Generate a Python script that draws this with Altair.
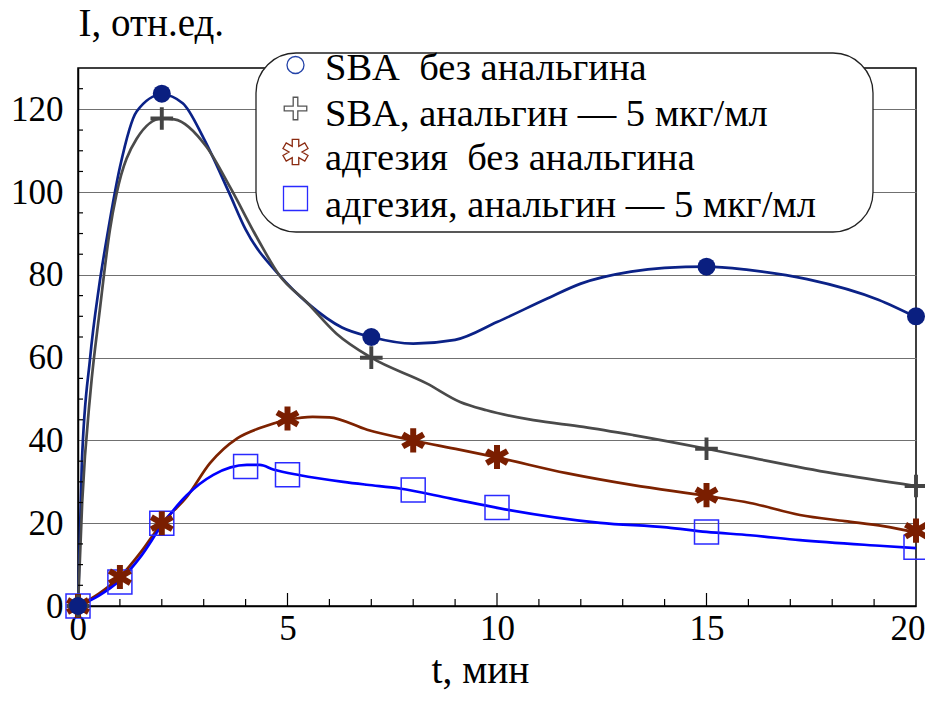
import math
import altair as alt
import pandas as pd

# ---------------- data ----------------
SERIES = ["SBA\u00a0 без анальгина", "SBA, анальгин — 5 мкг/мл",
          "адгезия\u00a0 без анальгина", "адгезия, анальгин — 5 мкг/мл"]

# measured points (markers)
sba_t = [0, 2, 7, 15, 20]
sba_v = [0, 123.8, 65, 82, 70]
sbaA_t = [0, 2, 7, 15, 20]
sbaA_v = [0, 117.8, 60, 38, 29]
adh_t = [0, 1, 2, 5, 8, 10, 15, 20]
adh_v = [0, 7, 20, 45.3, 40, 36, 26.8, 18.2]
adhA_t = [0, 1, 2, 4, 5, 8, 10, 15, 20]
adhA_v = [0, 5.8, 20, 33.7, 31.7, 28, 23.8, 17.9, 14.2]

# smooth curves
sba_ct = [0, 0.09, 0.29, 0.5, 0.72, 1.0, 1.4, 2.0, 2.5, 3.0, 3.6, 4.0, 4.8, 5.5,
          6.3, 7.0, 8.0, 9.0, 10.0, 11.2, 12.0, 13.2, 14.0, 15.0, 16.0, 17.4, 19.1, 20]
sba_cv = [0, 34, 60, 77, 90.8, 106, 119.5, 123.6, 121.5, 113, 100, 91, 80, 73,
          67.3, 65, 63.4, 64.3, 68.6, 74.3, 77.9, 80.8, 81.7, 82, 81.2, 79, 74, 69.8]
sbaA_ct = [0, 0.1, 0.3, 0.52, 0.76, 0.92, 1.4, 2.0, 2.3, 3.07, 3.63, 4.3, 4.8, 5.46,
           6.17, 7.0, 8.32, 9.12, 9.75, 10.87, 12.06, 13.25, 15.0, 16.04, 18.0, 20]
sbaA_cv = [0, 25, 52, 71.5, 90.8, 99.6, 112.9, 117.8, 117.6, 110.9, 101.2, 88.5, 80, 73.4,
           65.8, 60, 53.8, 49.3, 47.3, 44.9, 43.3, 41.3, 38, 35.9, 32.1, 29]
adh_ct = [0, 0.5, 1, 1.5, 2, 2.6, 3.15, 3.8, 4.34, 5.02, 5.6, 6.0, 6.9, 8, 9.1, 10,
          11.66, 13.25, 15, 16.04, 17.23, 18.3, 19.22, 20]
adh_cv = [0, 3, 7, 13, 20, 26.4, 34.5, 40.5, 43, 45, 45.7, 45.6, 42.6, 40, 37.8, 35.9,
          32.1, 29.2, 26.6, 24.9, 22, 20.5, 19.3, 17.8]
adhA_ct = [0, 0.5, 1, 1.5, 2, 2.59, 3.23, 4.03, 4.34, 4.66, 5.3, 6.33, 6.89, 7.68, 8.88,
           10.07, 12.46, 14.05, 15, 16.04, 17.23, 19.22, 20]
adhA_cv = [0, 2.5, 6.2, 12, 19.5, 26.7, 31.7, 34.1, 34.1, 33, 31.6, 30, 29.3, 28.4, 26,
           23.6, 20.1, 19, 17.9, 17.1, 15.9, 14.5, 14]

x_labels = [0, 5, 10, 15, 20]
y_labels = [0, 20, 40, 60, 80, 100, 120]
x_minor = [1, 2, 3, 4, 6, 7, 8, 9, 11, 12, 13, 14, 16, 17, 18, 19]
x_major = [5, 10, 15]
y_minor = [5, 10, 15, 25, 30, 35, 45, 50, 55, 65, 70, 75, 85, 90, 95, 105, 110, 115, 125]

# ---------------- styles ----------------
FONT = "Liberation Serif"
MARK_COLORS = ["#0a1f80", "#444444", "#7a1e00", "#2a2aff"]
LINE_COLORS = ["#0b2287", "#4a4a4a", "#7d2200", "#0000ff"]
LEG_COLORS = ["#2443a8", "#555555", "#8a2a10", "#2a2aff"]


def star(n, w):
    pts = []
    L = math.sqrt(1 - w * w)
    half = math.pi / n
    for k in range(n):
        th = math.pi / 2 + 2 * math.pi * k / n
        d = (math.cos(th), math.sin(th))
        nn = (-math.sin(th), math.cos(th))
        pts.append((L * d[0] - w * nn[0], L * d[1] - w * nn[1]))
        pts.append((L * d[0] + w * nn[0], L * d[1] + w * nn[1]))
        r = w / math.sin(half)
        pts.append((r * math.cos(th + half), r * math.sin(th + half)))
    return "M" + " L".join(f"{x:.3f},{-y:.3f}" for x, y in pts) + " Z"


PLUS = star(4, 0.17)
AST = star(6, 0.24)
LEG_PLUS = star(4, 0.2)
LEG_AST = star(6, 0.25)

W, H = 838, 538

X = alt.X("t:Q", scale=alt.Scale(domain=[0, 20], nice=False, zero=False),
          axis=alt.Axis(values=x_labels, grid=False, ticks=False, tickSize=0,
                        domainColor="black", domainWidth=1.5,
                        labelFont=FONT, labelFontSize=35, labelColor="black",
                        labelPadding=5, labelFlush=True, labelFlushOffset=9,
                        title="t, мин", titleFont=FONT, titleFontSize=39.5,
                        titleFontWeight="normal", titleColor="black",
                        titleX=402, titleY=76, titleBaseline="alphabetic"))
Y = alt.Y("v:Q", scale=alt.Scale(domain=[0, 130], nice=False),
          axis=alt.Axis(values=y_labels, grid=True, gridColor="#707070", gridWidth=1.2,
                        ticks=False, tickSize=0, domainColor="black", domainWidth=1.5,
                        labelFont=FONT, labelFontSize=35, labelColor="black",
                        labelPadding=15, labelBaseline="middle",
                        title="I, отн.ед.", titleFont=FONT, titleFontSize=39,
                        titleFontWeight="normal", titleColor="black",
                        titleAngle=0, titleAlign="left", titleBaseline="alphabetic",
                        titleX=0, titleY=-33))

curves = [(sba_ct, sba_cv), (sbaA_ct, sbaA_cv), (adh_ct, adh_cv), (adhA_ct, adhA_cv)]
layers = []
for i, (ct, cv) in enumerate(curves):
    df = pd.DataFrame({"t": ct, "v": cv})
    layers.append(alt.Chart(df).mark_line(interpolate="monotone", strokeWidth=2.7,
                                          color=LINE_COLORS[i]).encode(x=X, y=Y))

# tick marks (inward)
layers.append(alt.Chart(pd.DataFrame({"t": x_minor})).mark_rule(color="black", strokeWidth=1.2)
              .encode(x=X, y=alt.value(H), y2=alt.value(H - 7)))
layers.append(alt.Chart(pd.DataFrame({"t": x_major})).mark_rule(color="black", strokeWidth=1.2)
              .encode(x=X, y=alt.value(H), y2=alt.value(H - 13)))
layers.append(alt.Chart(pd.DataFrame({"v": y_minor})).mark_rule(color="black", strokeWidth=1.2)
              .encode(y=Y, x=alt.value(0), x2=alt.value(5)))

# visible markers
layers.append(alt.Chart(pd.DataFrame({"t": adhA_t, "v": adhA_v})).mark_point(
    shape="square", filled=False, size=576, strokeWidth=1.5, color=MARK_COLORS[3], opacity=1
).encode(x=X, y=Y))
layers.append(alt.Chart(pd.DataFrame({"t": adh_t, "v": adh_v})).mark_point(
    shape=AST, filled=True, size=620, opacity=1, strokeWidth=0, color=MARK_COLORS[2]).encode(x=X, y=Y))
layers.append(alt.Chart(pd.DataFrame({"t": sbaA_t, "v": sbaA_v})).mark_point(
    shape=PLUS, filled=True, size=529, opacity=1, strokeWidth=0, color=MARK_COLORS[1]).encode(x=X, y=Y))
layers.append(alt.Chart(pd.DataFrame({"t": sba_t, "v": sba_v})).mark_point(
    shape="circle", filled=True, size=324, opacity=1, strokeWidth=0, color=MARK_COLORS[0]).encode(x=X, y=Y))

# ---------------- legend (rounded box) ----------------
layers.append(alt.Chart(pd.DataFrame({"k": [0]})).mark_rect(
    cornerRadius=40, fill="white", stroke="#222222", strokeWidth=1.3
).encode(x=alt.value(178), x2=alt.value(795), y=alt.value(-15), y2=alt.value(164)))

leg_shapes = ["circle", LEG_PLUS, LEG_AST, "square"]
leg_sizes = [289, 529, 676, 576]
sym_y = [-3, 40.5, 84, 130.5]
txt_y = [12, 58, 102, 148.5]
for i, s in enumerate(SERIES):
    d = pd.DataFrame({"series": [s]})
    layers.append(alt.Chart(d).mark_point(
        shape=leg_shapes[i], filled=False, size=leg_sizes[i], strokeWidth=1.3,
        color=LEG_COLORS[i], opacity=1
    ).encode(x=alt.value(217.5), y=alt.value(sym_y[i])))
    layers.append(alt.Chart(d).mark_text(
        align="left", baseline="alphabetic", font=FONT, fontSize=38.5, color="black"
    ).encode(x=alt.value(247), y=alt.value(txt_y[i]), text="series:N"))

chart = alt.layer(*layers).properties(
    width=W, height=H,
    padding={"left": 70, "top": 60, "right": 9, "bottom": 90},
    autosize=alt.AutoSizeParams(type="none"),
    background="white",
).configure(font=FONT).configure_view(stroke="black", strokeWidth=1.5)

chart.save("out.html", embed_options={"renderer": "svg", "actions": False})
